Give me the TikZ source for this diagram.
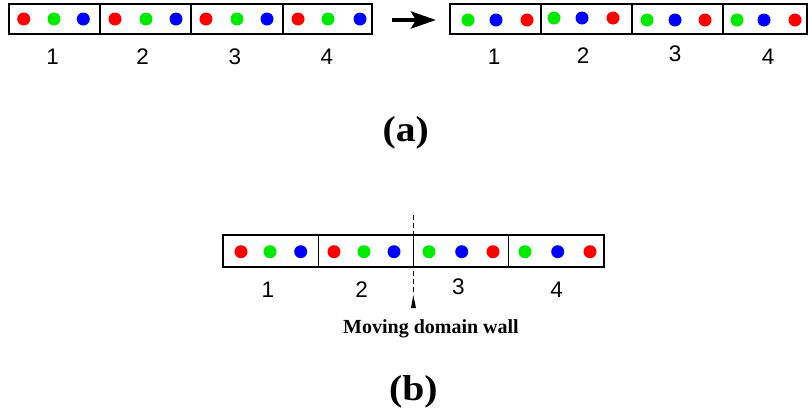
\documentclass[tikz,border=0pt]{standalone}
\usepackage{fontspec}
\setmainfont{Liberation Serif}
\newfontfamily\numfont{Liberation Sans}
\usetikzlibrary{arrows.meta}
\definecolor{dred}{RGB}{255,0,0}
\definecolor{dgreen}{RGB}{0,235,0}
\definecolor{dblue}{RGB}{0,0,255}
\begin{document}
\begin{tikzpicture}[x=1pt,y=-1pt,
  cell/.style={draw=black, line width=1.8pt, inner sep=0pt, minimum height=29.8pt},
  dot/.style={circle, inner sep=0pt, minimum size=13pt},
  R/.style={dot, fill=dred}, G/.style={dot, fill=dgreen}, B/.style={dot, fill=dblue},
  num/.style={font=\numfont\fontsize{22.5}{22.5}\selectfont, inner sep=0pt},
  captext/.style={font=\bfseries\fontsize{36}{36}\selectfont, inner sep=0pt, anchor=base, xscale=1.1},
  walltext/.style={font=\bfseries\fontsize{20}{20}\selectfont, inner sep=0pt, anchor=base}]
\useasboundingbox (0,0) rectangle (810,408);
% ---------- top left row
\foreach \l/\r [count=\i] in {9.3/100, 100/191, 191/283, 283/372}
  \node[cell, minimum width={(\r-\l)*1pt}] (L\i) at ({(\l+\r)/2}, 19.2) {};
\foreach \x/\c [count=\i] in {23.7/R,54/G,83.3/B,115/R,146/G,176/B,206/R,237/G,267/B,298/R,328/G,360/B}
  \node[\c] (Ld\i) at (\x,19) {};
\foreach \x/\t in {52.7/1,142.7/2,235/3,327/4}
  \node[num] (Ln\t) at (\x,56.7) {\t};
% ---------- arrow
\coordinate (arrS) at (392,20);
\coordinate (arrE) at (436,20);
\draw[line width=4pt, -{Stealth[length=25pt,width=17pt,inset=5pt]}] (arrS) -- (arrE);
% ---------- top right row
\foreach \l/\r [count=\i] in {450/541, 541/632, 632/723, 723/807}
  \node[cell, minimum width={(\r-\l)*1pt}] (T\i) at ({(\l+\r)/2}, 19.2) {};
\foreach \x/\y/\c [count=\i] in {468/20/G,496/20/B,527/20/R,554/18/G,582/18/B,613/18/R,647/20/G,675/20/B,705/20/R,737/20/G,764/20/B,795/20/R}
  \node[\c] (Td\i) at (\x,\y) {};
\foreach \x/\y/\t in {494/57/1,583/56/2,675/54/3,768/57/4}
  \node[num] (Tn\t) at (\x,\y) {\t};
% ---------- caption (a)
\node[captext] (capa) at (405.8,141.7) {(a)};
% ---------- bottom row
\foreach \l/\r [count=\i] in {223/318.5, 318.5/413.5, 413.5/508.5, 508.5/604}
  \node[cell, minimum width={(\r-\l)*1pt}, minimum height=32pt] (B\i) at ({(\l+\r)/2}, 251.3) {};
\foreach \x/\c [count=\i] in {241/R,270/G,300.7/B,334/R,364/G,394/B,429/G,461.7/B,493/R,525/G,557.7/B,590/R}
  \node[\c] (Bd\i) at (\x,251.7) {};
\node[num] (Bn1) at (268,290) {1};
\node[num] (Bn2) at (361.7,290) {2};
\node[num] (Bn3) at (458.3,287) {3};
\node[num] (Bn4) at (556.7,290) {4};
% ---------- domain wall
\coordinate (wt) at (413.3,215);
\coordinate (wb) at (413.3,294);
\draw[line width=1pt, dash pattern=on 5pt off 3pt] (wt) -- (wb);
\fill (411,308) -- (413.3,295) -- (416,308) -- cycle;
\node[walltext] (mdw) at (431,333) {Moving domain wall};
% ---------- caption (b)
\node[captext] (capb) at (413.3,400) {(b)};
\end{tikzpicture}
\end{document}
